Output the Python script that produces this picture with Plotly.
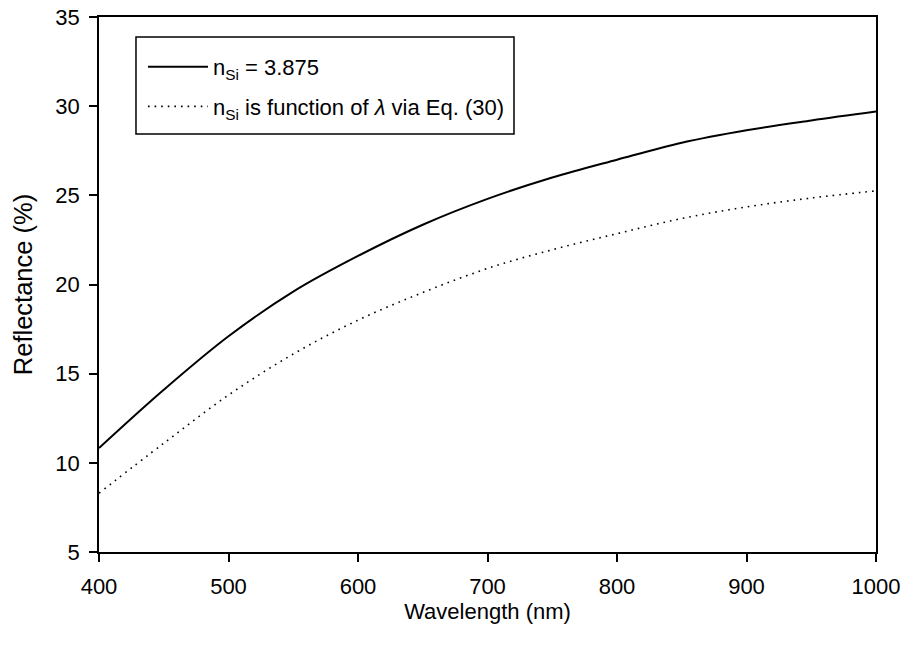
import plotly.graph_objects as go

wavelength = [400, 450, 500, 550, 600, 650, 700, 750, 800, 850, 900, 950, 1000]
refl_const = [10.83, 14.1, 17.1, 19.6, 21.6, 23.35, 24.8, 26.0, 27.0, 27.95, 28.65, 29.2, 29.7]
refl_eq30 = [8.3, 11.1, 13.8, 16.1, 18.0, 19.55, 20.9, 21.95, 22.85, 23.7, 24.35, 24.85, 25.25]

x_ticks = [400, 500, 600, 700, 800, 900, 1000]
y_ticks = [5, 10, 15, 20, 25, 30, 35]

FONT = "Liberation Sans, Arial, sans-serif"

fig = go.Figure()
fig.add_trace(go.Scatter(
    x=wavelength, y=refl_const, mode="lines", line_shape="spline",
    line=dict(color="black", width=2),
    name="n<sub>Si</sub> = 3.875", legendgroup="a"))
fig.add_trace(go.Scatter(
    x=wavelength, y=refl_eq30, mode="lines", line_shape="spline",
    line=dict(color="black", width=1.6, dash="1.6px,5px"),
    name="n<sub>Si</sub> is function of <i>λ</i> via Eq. (30)", legendgroup="b"))

axis_common = dict(
    showline=True, linecolor="black", linewidth=1.5, mirror=True,
    ticks="outside", ticklen=8, tickwidth=1.5, tickcolor="black",
    showgrid=False, zeroline=False, automargin=False,
    tickfont=dict(family=FONT, size=22, color="black"),
)

# legend frame (drawn as a layout rectangle so its padding matches the reference)
fig.add_shape(type="rect", xref="paper", yref="paper",
              x0=0.0476, x1=0.5341, y0=0.7813, y1=0.9626,
              line=dict(color="black", width=1.5), fillcolor="white", layer="below")

fig.update_layout(
    width=904, height=645,
    margin=dict(l=99, r=28, t=17, b=93),
    paper_bgcolor="white", plot_bgcolor="white",
    font=dict(family=FONT, color="black"),
    showlegend=True,
    legend=dict(
        x=0.0566, y=0.9458, xanchor="left", yanchor="top",
        borderwidth=0, bgcolor="rgba(0,0,0,0)",
        font=dict(family=FONT, size=22, color="black"),
        tracegroupgap=8, itemwidth=60,
    ),
    xaxis=dict(axis_common, range=[400, 1000], tickvals=x_ticks,
               ticklabelstandoff=6,
               title=dict(text="Wavelength (nm)", font=dict(family=FONT, size=22), standoff=1)),
    yaxis=dict(axis_common, range=[5, 35], tickvals=y_ticks,
               ticklabelstandoff=5,
               title=dict(text="Reflectance (%)", font=dict(family=FONT, size=25.5), standoff=15)),
)

fig.write_html("out.html", config={"displayModeBar": False},
               post_script="document.body.style.margin='0';")
